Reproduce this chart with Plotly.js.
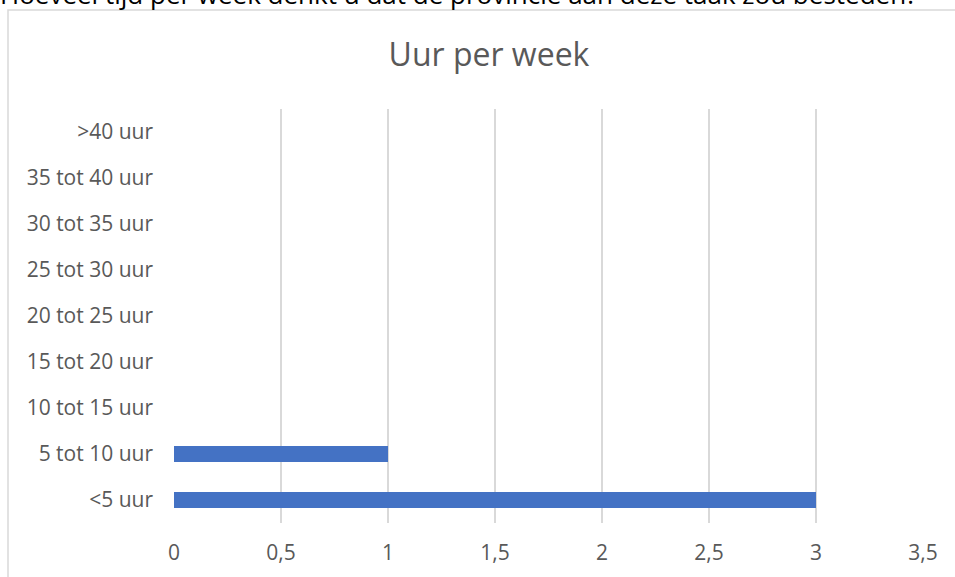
<!DOCTYPE html>
<html>
<head>
<meta charset="utf-8">
<script src="https://cdn.plot.ly/plotly-3.0.1.min.js"></script>
<style>
  html, body {margin: 0; padding: 0; background: white;}
  #chart {width: 955px; height: 577px;}
</style>
</head>
<body>
<div id="chart"></div>
<script>
// data
let categories = ['<5 uur', '5 tot 10 uur', '10 tot 15 uur', '15 tot 20 uur', '20 tot 25 uur',
    '25 tot 30 uur', '30 tot 35 uur', '35 tot 40 uur', '>40 uur'];
let hours = [3, 1, 0, 0, 0, 0, 0, 0, 0];
let xTicks = [0, 0.5, 1, 1.5, 2, 2.5, 3, 3.5];

let question = 'Hoeveel tijd per week denkt u dat de provincie aan deze taak zou besteden?';
let chartTitle = 'Uur per week';

let font = 'Open Sans, Noto Sans, sans-serif';
let grey = '#595959';

let trace = {
    type: 'bar',
    orientation: 'h',
    x: hours,
    y: categories,
    marker: {color: '#4472c4'},
    hoverinfo: 'x+y'
};

let layout = {
    width: 955,
    height: 577,
    margin: {l: 174, r: 32, t: 109, b: 54},
    paper_bgcolor: 'white',
    plot_bgcolor: 'white',
    separators: ',.',
    showlegend: false,
    bargap: 0.65,
    font: {family: font, color: grey},
    title: {
        text: chartTitle,
        font: {family: font, size: 32, color: grey},
        x: 489 / 955, xref: 'container', xanchor: 'center',
        y: 0.905, yanchor: 'middle'
    },
    xaxis: {
        range: [0, 3.5],
        tickvals: xTicks,
        showgrid: true,
        gridcolor: '#d9d9d9',
        gridwidth: 1.5,
        zeroline: false,
        showline: false,
        ticks: '',
        ticklabelstandoff: 15,
        tickfont: {family: font, size: 21, color: grey}
    },
    yaxis: {
        type: 'category',
        categoryorder: 'array',
        categoryarray: categories,
        showgrid: false,
        zeroline: false,
        showline: false,
        ticks: '',
        ticklabelstandoff: 20,
        tickfont: {family: font, size: 21, color: grey}
    },
    shapes: [{
        type: 'rect',
        xref: 'paper', yref: 'paper',
        x0: -166 / 749, x1: 1.1,
        y0: -60 / 414, y1: 1 + 99 / 414,
        line: {color: '#d9d9d9', width: 1.5},
        fillcolor: 'rgba(0,0,0,0)',
        layer: 'below'
    }],
    annotations: [{
        text: question,
        xref: 'paper', yref: 'paper',
        x: -176 / 749, xanchor: 'left',
        y: 1 + 95 / 414, yanchor: 'bottom',
        showarrow: false,
        font: {family: font, size: 26, color: '#000000'}
    }]
};

Plotly.newPlot('chart', [trace], layout, {displayModeBar: false, responsive: false});
</script>
</body>
</html>
